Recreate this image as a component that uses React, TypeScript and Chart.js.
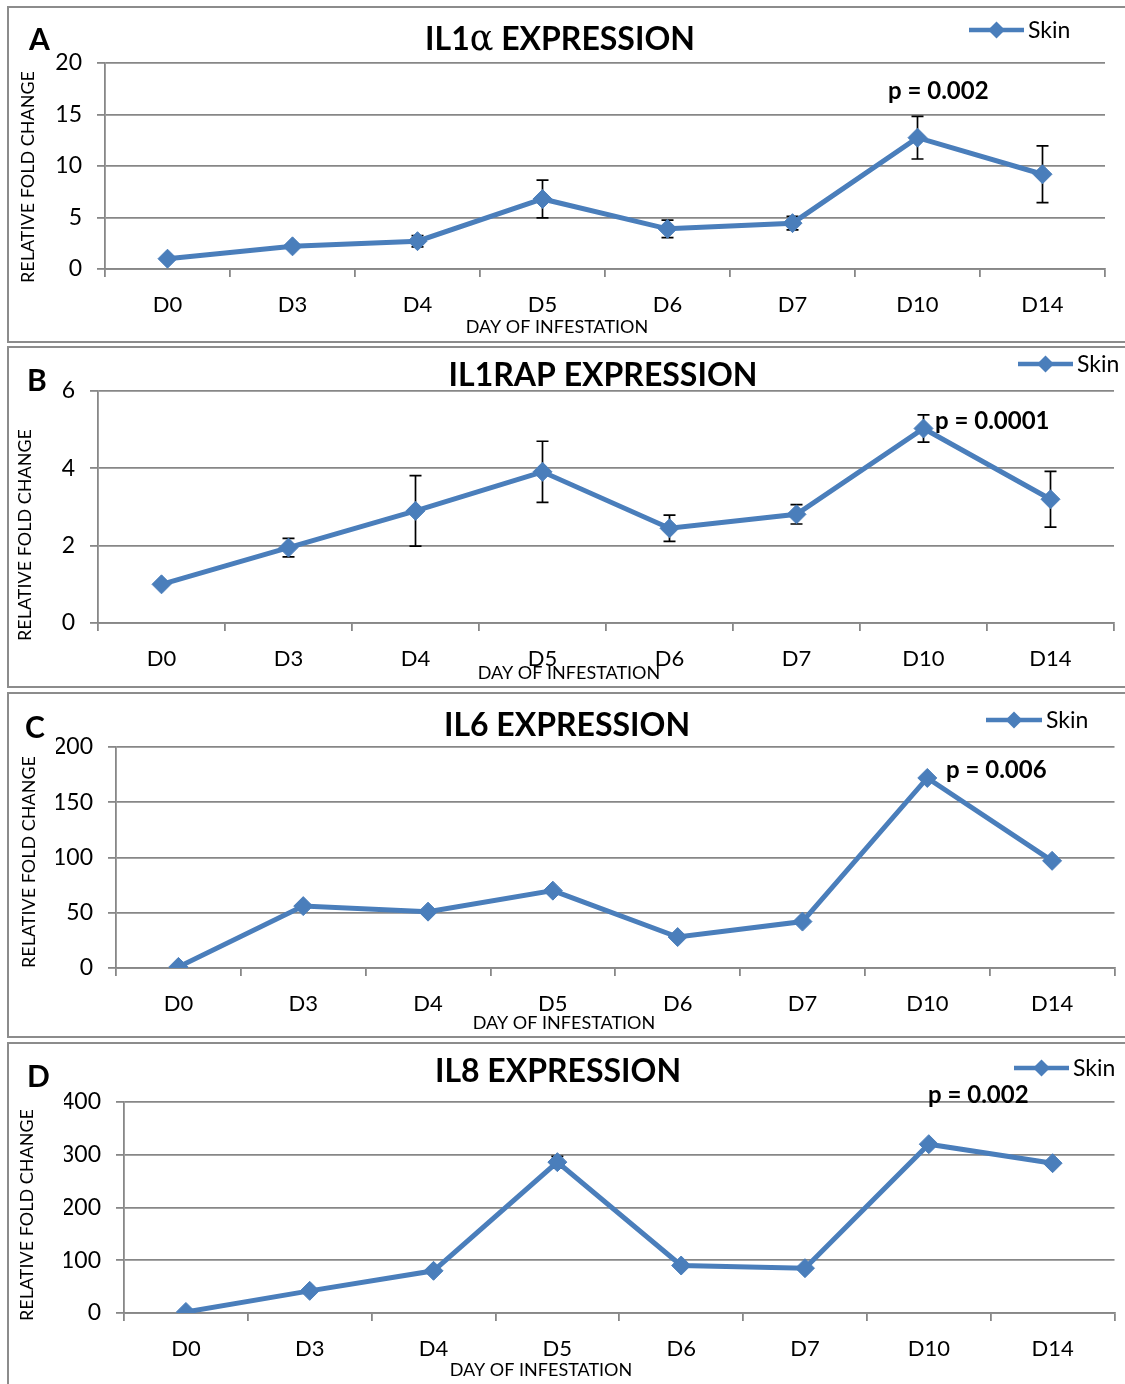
import React, { useEffect, useRef } from 'react';
import { Chart, registerables } from 'chart.js';

Chart.register(...registerables);

// ---- data ----
const DAYS = ['D0', 'D3', 'D4', 'D5', 'D6', 'D7', 'D10', 'D14'];

const IL1A_SKIN = [1.0, 2.2, 2.7, 6.8, 3.9, 4.45, 12.75, 9.2];
const IL1A_ERR = [0, 0.2, 0.55, 1.83, 0.85, 0.65, 2.07, 2.75];

const IL1RAP_SKIN = [1.0, 1.95, 2.9, 3.91, 2.45, 2.81, 5.03, 3.2];
const IL1RAP_ERR = [0, 0.24, 0.91, 0.79, 0.34, 0.25, 0.35, 0.72];

const IL6_SKIN = [1, 56, 51, 70, 28, 42, 172, 97];
const IL6_ERR = [0, 0, 0, 0, 0, 0, 0, 0];

const IL8_SKIN = [2, 42, 80, 286, 90, 85, 320, 284];
const IL8_ERR = [0, 0, 0, 11, 0, 0, 0, 0];

const Y_MAX = [20, 6, 200, 400];
const Y_STEP = [5, 2, 50, 100];

const PANEL_LETTERS = ['A', 'B', 'C', 'D'];
const TITLES = ['IL1α EXPRESSION', 'IL1RAP EXPRESSION', 'IL6 EXPRESSION', 'IL8 EXPRESSION'];
const P_VALUES = ['p = 0.002', 'p = 0.0001', 'p = 0.006', 'p = 0.002'];
const SERIES_NAME = 'Skin';
const X_TITLE = 'DAY OF INFESTATION';
const Y_TITLE = 'RELATIVE FOLD CHANGE';

const SERIES = [IL1A_SKIN, IL1RAP_SKIN, IL6_SKIN, IL8_SKIN];
const ERRORS = [IL1A_ERR, IL1RAP_ERR, IL6_ERR, IL8_ERR];

// ---- styling / layout (page coordinates) ----
const FONT = "Lato, 'Open Sans', sans-serif";
const BLUE = '#4A7EBB';
const GRID = '#878787';
const FRAME = '#8c8c8c';
const PAGE_W = 1125;

type Layout = {
  top: number; height: number;
  box: { top: number; bottom: number };
  area: { left: number; right: number; top: number; bottom: number };
  letter: { x: number; y: number };
  title: { x: number; y: number };
  legend: { x1: number; x2: number; y: number };
  p: { x: number; y: number };
  yTitle: { x: number; y: number };
  xTitle: { x: number; y: number };
};

const LAYOUTS: Layout[] = [
  {
    top: 0, height: 345, box: { top: 6, bottom: 343 },
    area: { left: 105, right: 1105, top: 63, bottom: 269 },
    letter: { x: 29, y: 39 }, title: { x: 560, y: 38 },
    legend: { x1: 969, x2: 1024, y: 30 }, p: { x: 888, y: 90 },
    yTitle: { x: 28, y: 177 }, xTitle: { x: 557, y: 327 },
  },
  {
    top: 345, height: 345, box: { top: 346, bottom: 688 },
    area: { left: 98, right: 1114, top: 391, bottom: 623 },
    letter: { x: 27, y: 380 }, title: { x: 603, y: 374 },
    legend: { x1: 1018, x2: 1073, y: 364 }, p: { x: 935, y: 420 },
    yTitle: { x: 25, y: 535 }, xTitle: { x: 569, y: 673 },
  },
  {
    top: 690, height: 350, box: { top: 692, bottom: 1038 },
    area: { left: 116, right: 1125, top: 747, bottom: 968 },
    letter: { x: 25, y: 727 }, title: { x: 567, y: 724 },
    legend: { x1: 986, x2: 1042, y: 720 }, p: { x: 946, y: 769 },
    yTitle: { x: 29, y: 862 }, xTitle: { x: 564, y: 1023 },
  },
  {
    top: 1040, height: 344, box: { top: 1042, bottom: 1392 },
    area: { left: 124, right: 1118, top: 1102, bottom: 1313 },
    letter: { x: 27, y: 1076 }, title: { x: 558, y: 1070 },
    legend: { x1: 1014, x2: 1069, y: 1068 }, p: { x: 928, y: 1094 },
    yTitle: { x: 27, y: 1215 }, xTitle: { x: 541, y: 1370 },
  },
];

const Y_AXIS_W = 60;
const X_AXIS_H = 50;

function drawDiamond(ctx: CanvasRenderingContext2D, x: number, y: number, r: number) {
  ctx.beginPath();
  ctx.moveTo(x - r, y);
  ctx.lineTo(x, y - r);
  ctx.lineTo(x + r, y);
  ctx.lineTo(x, y + r);
  ctx.closePath();
  ctx.fill();
}

// text whose cap height is centred on y
function capText(ctx: CanvasRenderingContext2D, text: string, x: number, y: number, size: number, weight: string, align: CanvasTextAlign) {
  ctx.font = `${weight} ${size}px ${FONT}`;
  ctx.textAlign = align;
  ctx.textBaseline = 'alphabetic';
  ctx.fillText(text, x, y + size * 0.36);
}

function drawTitle(ctx: CanvasRenderingContext2D, title: string, cx: number, cy: number) {
  const size = 32;
  const parts = title.split('α');
  const runs: { t: string; f: string }[] = [];
  parts.forEach((p, i) => {
    if (i > 0) runs.push({ t: 'α', f: `${size + 3}px 'DejaVu Serif', serif` });
    if (p) runs.push({ t: p, f: `bold ${size}px ${FONT}` });
  });
  let total = 0;
  runs.forEach((r) => { ctx.font = r.f; total += ctx.measureText(r.t).width; });
  let x = cx - total / 2;
  ctx.textAlign = 'left';
  ctx.textBaseline = 'alphabetic';
  runs.forEach((r) => {
    ctx.font = r.f;
    ctx.fillText(r.t, x, cy + size * 0.36);
    x += ctx.measureText(r.t).width;
  });
}

function Panel({ index }: { index: number }) {
  const ref = useRef<HTMLCanvasElement>(null);
  const L = LAYOUTS[index];

  useEffect(() => {
    const canvas = ref.current;
    if (!canvas) return;
    const values = SERIES[index];
    const errs = ERRORS[index];
    const off = L.top;

    const decorations = {
      id: 'panelDecorations',
      beforeDatasetsDraw(chart: any) {
        const ctx: CanvasRenderingContext2D = chart.ctx;
        const xs = chart.scales.x;
        const ys = chart.scales.y;
        ctx.save();
        ctx.strokeStyle = '#000';
        ctx.lineWidth = 1.7;
        values.forEach((v, i) => {
          const e = errs[i];
          if (!e) return;
          const x = xs.getPixelForValue(i);
          const y1 = ys.getPixelForValue(v + e);
          const y2 = ys.getPixelForValue(v - e);
          ctx.beginPath();
          ctx.moveTo(x, y1); ctx.lineTo(x, y2);
          ctx.moveTo(x - 6, y1); ctx.lineTo(x + 6, y1);
          ctx.moveTo(x - 6, y2); ctx.lineTo(x + 6, y2);
          ctx.stroke();
        });
        ctx.restore();
      },
      afterDraw(chart: any) {
        const ctx: CanvasRenderingContext2D = chart.ctx;
        ctx.save();
        ctx.fillStyle = '#000';
        // panel letter
        capText(ctx, PANEL_LETTERS[index], L.letter.x, L.letter.y - off, 30, 'bold', 'left');
        // chart title
        drawTitle(ctx, TITLES[index], L.title.x, L.title.y - off);
        // p value annotation
        capText(ctx, P_VALUES[index], L.p.x, L.p.y - off, 24, 'bold', 'left');
        // axis titles
        capText(ctx, X_TITLE, L.xTitle.x, L.xTitle.y - off, 18, 'normal', 'center');
        ctx.save();
        ctx.translate(L.yTitle.x, L.yTitle.y - off);
        ctx.rotate(-Math.PI / 2);
        capText(ctx, Y_TITLE, 0, 0, 18, 'normal', 'center');
        ctx.restore();
        // legend
        const ly = L.legend.y - off;
        ctx.strokeStyle = BLUE;
        ctx.lineWidth = 4.5;
        ctx.beginPath();
        ctx.moveTo(L.legend.x1, ly);
        ctx.lineTo(L.legend.x2, ly);
        ctx.stroke();
        ctx.fillStyle = BLUE;
        drawDiamond(ctx, (L.legend.x1 + L.legend.x2) / 2, ly, 8.5);
        ctx.fillStyle = '#000';
        capText(ctx, SERIES_NAME, L.legend.x2 + 4, ly, 23, 'normal', 'left');
        ctx.restore();
      },
    };

    const chart = new Chart(canvas, {
      type: 'line',
      data: {
        labels: DAYS,
        datasets: [
          {
            label: SERIES_NAME,
            data: values,
            borderColor: BLUE,
            backgroundColor: BLUE,
            borderWidth: 5,
            pointStyle: 'rectRot',
            pointRadius: 9.5,
            pointBorderWidth: 1,
            pointBackgroundColor: BLUE,
            pointBorderColor: BLUE,
            tension: 0,
            fill: false,
          },
        ],
      },
      options: {
        responsive: false,
        animation: false,
        events: [],
        layout: {
          padding: {
            left: L.area.left - Y_AXIS_W,
            right: PAGE_W - L.area.right,
            top: L.area.top - off,
            bottom: L.height - (L.area.bottom - off) - X_AXIS_H,
          },
        },
        plugins: {
          legend: { display: false },
          title: { display: false },
          tooltip: { enabled: false },
        },
        scales: {
          x: {
            type: 'category',
            offset: true,
            grid: {
              offset: true,
              drawOnChartArea: false,
              drawTicks: true,
              tickLength: 8,
              color: GRID,
              lineWidth: 1.8,
            },
            border: { color: GRID, width: 1.8 },
            ticks: { color: '#000', font: { family: FONT, size: 22 }, padding: 15, maxRotation: 0, autoSkip: false },
            afterFit: (s: any) => { s.height = X_AXIS_H; },
          },
          y: {
            min: 0,
            max: Y_MAX[index],
            ticks: { stepSize: Y_STEP[index], color: '#000', font: { family: FONT, size: 23 }, padding: 15 },
            grid: { color: GRID, lineWidth: 1.8, tickLength: 8 },
            border: { color: GRID, width: 1.8 },
            afterFit: (s: any) => { s.width = Y_AXIS_W; },
          },
        },
      },
      plugins: [decorations],
    });
    return () => chart.destroy();
  }, [index]);

  return (
    <canvas
      ref={ref}
      width={PAGE_W}
      height={L.height}
      style={{ position: 'absolute', left: 0, top: L.top, width: PAGE_W, height: L.height }}
    />
  );
}

export default function App() {
  return (
    <div
      style={{
        position: 'absolute', left: 0, top: 0, width: PAGE_W, height: 1384,
        overflow: 'hidden', background: '#fff',
      }}
    >
      {LAYOUTS.map((L, i) => (
        <div
          key={`box${i}`}
          style={{
            position: 'absolute', left: 7, top: L.box.top, width: PAGE_W + 10 - 7,
            height: L.box.bottom - L.box.top, border: `2px solid ${FRAME}`, boxSizing: 'border-box',
          }}
        />
      ))}
      {LAYOUTS.map((_, i) => (
        <Panel key={i} index={i} />
      ))}
    </div>
  );
}
